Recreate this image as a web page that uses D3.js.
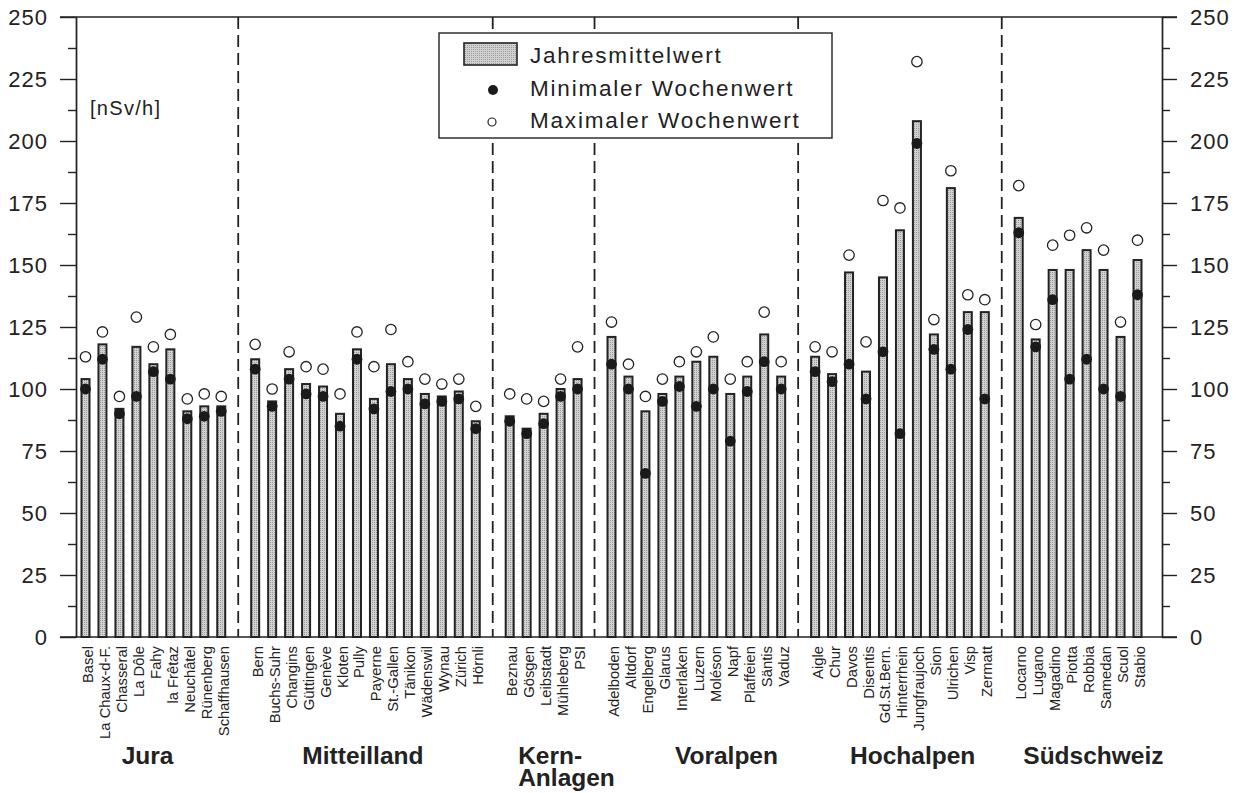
<!DOCTYPE html>
<html>
<head>
<meta charset="utf-8">
<script src="https://cdn.jsdelivr.net/npm/d3@7"></script>
<style>
  html, body { margin: 0; padding: 0; background: #fff; }
  svg { display: block; font-family: "Liberation Sans", Arial, Helvetica, sans-serif; }
</style>
</head>
<body>
<svg id="chart" width="1237" height="793"></svg>
<script>
// Ortsdosisleistung an den Messstationen, gruppiert nach Region (nSv/h)
const groupNames = ["Jura", "Mitteilland", "Kern-\nAnlagen", "Voralpen", "Hochalpen", "Südschweiz"];

const stations = [
  "Basel", "La Chaux-d-F.", "Chasseral", "La Dôle", "Fahy", "la Frêtaz", "Neuchâtel", "Rünenberg", "Schaffhausen",
  "Bern", "Buchs-Suhr", "Changins", "Güttingen", "Genève", "Kloten", "Pully", "Payerne", "St.-Gallen", "Tänikon",
  "Wädenswil", "Wynau", "Zürich", "Hörnli",
  "Beznau", "Gösgen", "Leibstadt", "Mühleberg", "PSI",
  "Adelboden", "Altdorf", "Engelberg", "Glarus", "Interlaken", "Luzern", "Moléson", "Napf", "Plaffeien", "Säntis", "Vaduz",
  "Aigle", "Chur", "Davos", "Disentis", "Gd.St.Bern.", "Hinterrhein", "Jungfraujoch", "Sion", "Ulrichen", "Visp", "Zermatt",
  "Locarno", "Lugano", "Magadino", "Piotta", "Robbia", "Samedan", "Scuol", "Stabio"
];

const stationGroup = [
  0, 0, 0, 0, 0, 0, 0, 0, 0,
  1, 1, 1, 1, 1, 1, 1, 1, 1, 1, 1, 1, 1, 1,
  2, 2, 2, 2, 2,
  3, 3, 3, 3, 3, 3, 3, 3, 3, 3, 3,
  4, 4, 4, 4, 4, 4, 4, 4, 4, 4, 4,
  5, 5, 5, 5, 5, 5, 5, 5
];

// Jahresmittelwert
const meanValues = [
  104, 118, 92, 117, 110, 116, 91, 93, 93,
  112, 95, 108, 102, 101, 90, 116, 96, 110, 104, 98, 97, 99, 87,
  89, 84, 90, 100, 104,
  121, 105, 91, 98, 105, 111, 113, 98, 105, 122, 105,
  113, 106, 147, 107, 145, 164, 208, 122, 181, 131, 131,
  169, 120, 148, 148, 156, 148, 121, 152
];

// Minimaler Wochenwert
const minValues = [
  100, 112, 90, 97, 107, 104, 88, 89, 91,
  108, 93, 104, 98, 97, 85, 112, 92, 99, 100, 94, 95, 96, 84,
  87, 82, 86, 97, 100,
  110, 100, 66, 95, 101, 93, 100, 79, 99, 111, 100,
  107, 103, 110, 96, 115, 82, 199, 116, 108, 124, 96,
  163, 117, 136, 104, 112, 100, 97, 138
];

// Maximaler Wochenwert
const maxValues = [
  113, 123, 97, 129, 117, 122, 96, 98, 97,
  118, 100, 115, 109, 108, 98, 123, 109, 124, 111, 104, 102, 104, 93,
  98, 96, 95, 104, 117,
  127, 110, 97, 104, 111, 115, 121, 104, 111, 131, 111,
  117, 115, 154, 119, 176, 173, 232, 128, 188, 138, 136,
  182, 126, 158, 162, 165, 156, 127, 160
];

const yMajorTicks = [0, 25, 50, 75, 100, 125, 150, 175, 200, 225, 250];
const yMinorTicks = [12.5, 37.5, 62.5, 87.5, 112.5, 137.5, 162.5, 187.5, 212.5, 237.5];

const legendLabels = ["Jahresmittelwert", "Minimaler Wochenwert", "Maximaler Wochenwert"];
const unitLabel = "[nSv/h]";

// ---- layout ----
const ink = "#222";
const svg = d3.select("#chart");

// each station takes one slot; one empty slot separates neighbouring groups
const slots = stations.map((s, i) => i + stationGroup[i]);
const lastSlot = d3.max(slots);

const x = d3.scaleLinear().domain([0, lastSlot]).range([85.5, 1137.5]);
const y = d3.scaleLinear().domain([0, 250]).range([637, 17]);

const axisLeftX = 76, axisRightX = 1162;
const frameLeft = 60, frameRight = 1177;

// stippled grey fill for the bars
const defs = svg.append("defs");
const pat = defs.append("pattern")
  .attr("id", "stipple").attr("width", 2).attr("height", 2)
  .attr("patternUnits", "userSpaceOnUse");
pat.append("rect").attr("width", 2).attr("height", 2).attr("fill", "#d2d2d2");
pat.append("rect").attr("width", 1).attr("height", 1).attr("fill", "#9a9a9a");

// frame lines (top and bottom)
svg.append("line")
  .attr("x1", frameLeft).attr("x2", frameRight)
  .attr("y1", y(250)).attr("y2", y(250))
  .attr("stroke", ink).attr("stroke-width", 1.4);
svg.append("line")
  .attr("x1", frameLeft).attr("x2", frameRight)
  .attr("y1", y(0)).attr("y2", y(0))
  .attr("stroke", ink).attr("stroke-width", 1.6);

// y axes, left and right, with minor ticks
function styleAxis(g) {
  g.selectAll("path.domain").attr("stroke", ink).attr("stroke-width", 1.4);
  g.selectAll(".tick line").attr("stroke", ink).attr("stroke-width", 1.4);
  g.selectAll(".tick text")
    .attr("fill", ink)
    .attr("font-size", 22)
    .attr("letter-spacing", "1px")
    .attr("font-family", "'Liberation Sans', Arial, sans-serif");
}

const leftMajor = svg.append("g").attr("transform", `translate(${axisLeftX},0)`)
  .call(d3.axisLeft(y).tickValues(yMajorTicks).tickSize(16).tickSizeOuter(0).tickPadding(12).tickFormat(d3.format("d")));
styleAxis(leftMajor);
const leftMinor = svg.append("g").attr("transform", `translate(${axisLeftX},0)`)
  .call(d3.axisLeft(y).tickValues(yMinorTicks).tickSize(8).tickSizeOuter(0).tickFormat(""));
styleAxis(leftMinor);

const rightMajor = svg.append("g").attr("transform", `translate(${axisRightX},0)`)
  .call(d3.axisRight(y).tickValues(yMajorTicks).tickSize(15).tickSizeOuter(0).tickPadding(13).tickFormat(d3.format("d")));
styleAxis(rightMajor);
const rightMinor = svg.append("g").attr("transform", `translate(${axisRightX},0)`)
  .call(d3.axisRight(y).tickValues(yMinorTicks).tickSize(8).tickSizeOuter(0).tickFormat(""));
styleAxis(rightMinor);

// dashed separators between the regions
const separators = d3.range(1, groupNames.length).map(g => {
  const prev = slots[stationGroup.lastIndexOf(g - 1)];
  const next = slots[stationGroup.indexOf(g)];
  return (prev + next) / 2;
});
svg.append("g").selectAll("line").data(separators).join("line")
  .attr("x1", d => x(d)).attr("x2", d => x(d))
  .attr("y1", y(250)).attr("y2", y(0))
  .attr("stroke", ink).attr("stroke-width", 1.8)
  .attr("stroke-dasharray", "12,6");

// bars: annual mean
const barW = 8;
svg.append("g").selectAll("rect").data(meanValues).join("rect")
  .attr("x", (d, i) => x(slots[i]) - barW / 2)
  .attr("y", d => y(d))
  .attr("width", barW)
  .attr("height", d => y(0) - y(d))
  .attr("fill", "url(#stipple)")
  .attr("stroke", ink).attr("stroke-width", 2);

// weekly minimum (filled) and maximum (open)
svg.append("g").selectAll("circle").data(minValues).join("circle")
  .attr("cx", (d, i) => x(slots[i]))
  .attr("cy", d => y(d))
  .attr("r", 5.4)
  .attr("fill", "#1a1a1a");

svg.append("g").selectAll("circle").data(maxValues).join("circle")
  .attr("cx", (d, i) => x(slots[i]))
  .attr("cy", d => y(d))
  .attr("r", 5.2)
  .attr("fill", "#fff")
  .attr("stroke", ink).attr("stroke-width", 1.3);

// station names, rotated
svg.append("g").selectAll("text").data(stations).join("text")
  .attr("transform", (d, i) => `translate(${x(slots[i]) + 7.5},646) rotate(-90)`)
  .attr("text-anchor", "end")
  .attr("font-size", 14.8)
  .attr("fill", ink)
  .text(d => d);

// region names (start offset in slots from each region's first station)
const regionOffset = [2.13, 2.78, 0.5, 3.74, 2.06, 0.27];
const regionText = svg.append("g")
  .attr("font-weight", "bold")
  .attr("font-size", 24.5)
  .attr("fill", ink);
groupNames.forEach((name, g) => {
  const first = slots[stationGroup.indexOf(g)];
  const t = regionText.append("text")
    .attr("x", x(first + regionOffset[g]))
    .attr("y", 764);
  name.split("\n").forEach((line, k) => {
    t.append("tspan")
      .attr("x", x(first + regionOffset[g]))
      .attr("dy", k === 0 ? 0 : 22)
      .text(line);
  });
});

// unit
svg.append("text")
  .attr("x", 90).attr("y", 115)
  .attr("font-size", 20)
  .attr("letter-spacing", "1.3px")
  .attr("fill", ink)
  .text(unitLabel);

// legend
const lg = svg.append("g").attr("transform", "translate(439,33)");
lg.append("rect")
  .attr("width", 393).attr("height", 105)
  .attr("fill", "#fff")
  .attr("stroke", ink).attr("stroke-width", 1.4);
lg.append("rect")
  .attr("x", 25).attr("y", 10).attr("width", 53).attr("height", 22)
  .attr("fill", "url(#stipple)")
  .attr("stroke", ink).attr("stroke-width", 1.6);
lg.append("circle").attr("cx", 54).attr("cy", 57).attr("r", 5).attr("fill", "#1a1a1a");
lg.append("circle").attr("cx", 53).attr("cy", 89).attr("r", 4)
  .attr("fill", "#fff").attr("stroke", ink).attr("stroke-width", 1.2);
lg.selectAll("text.lab").data(legendLabels).join("text")
  .attr("class", "lab")
  .attr("x", 91)
  .attr("y", (d, i) => 30 + i * 32.5)
  .attr("font-size", 22.5)
  .attr("letter-spacing", "1.8px")
  .attr("fill", ink)
  .text(d => d);
</script>
</body>
</html>
